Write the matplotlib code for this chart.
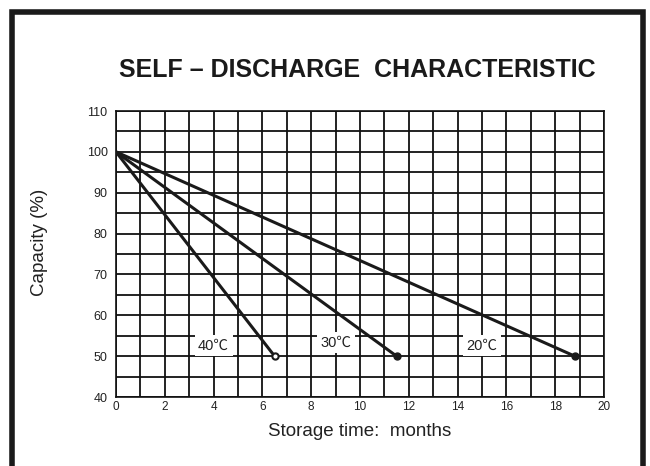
import matplotlib.pyplot as plt
from matplotlib.patches import Rectangle

# storage time (months) vs remaining capacity (%)
temps = ["40℃", "30℃", "20℃"]
end_months = [6.5, 11.5, 18.8]
start_cap = 100
end_cap = 50
label_x = [4.0, 9.0, 15.0]
label_y = [52.6, 53.3, 52.6]
x_ticks = list(range(0, 21, 2))
y_ticks = list(range(40, 111, 10))

fam = ['Liberation Sans', 'Noto Sans CJK SC', 'DejaVu Sans']
plt.rcParams['font.family'] = fam

fig = plt.figure(figsize=(6.5, 4.66), dpi=100)
ax = fig.add_axes([116/650, 1-397/466, 488/650, 286/466])

ax.set_xlim(0, 20)
ax.set_ylim(40, 110)
ax.set_xticks(x_ticks)
ax.set_yticks(y_ticks)
ax.set_xticks(range(0, 21), minor=True)
ax.set_yticks(range(40, 111, 5), minor=True)
ax.grid(True, which='both', color='#111111', linewidth=1.3)
ax.set_axisbelow(True)
ax.tick_params(which='both', length=0)
ax.tick_params(axis='x', labelsize=8.5, pad=3, colors='#222222')
ax.tick_params(axis='y', labelsize=9, pad=6, colors='#222222')
for s in ax.spines.values():
    s.set_color('#111111')
    s.set_linewidth(1.2)

for i, t in enumerate(temps):
    ax.plot([0, end_months[i]], [start_cap, end_cap], color='#1a1a1a', lw=2.2,
            zorder=3)
    if i == 0:
        ax.plot(end_months[i], end_cap, 'o', ms=4.5, mfc='white', mec='#1a1a1a',
                mew=1.5, zorder=4)
    else:
        ax.plot(end_months[i], end_cap, 'o', ms=5, color='#1a1a1a', zorder=4)
    ax.text(label_x[i], label_y[i], t, ha='center', va='center', fontsize=10.5,
            color='#222222', zorder=2,
            bbox=dict(facecolor='white', edgecolor='none', pad=2.5))

ax.set_xlabel("Storage time:  months", fontsize=13.5, color='#222222', labelpad=7)
ax.set_ylabel("Capacity (%)", fontsize=13.5, color='#222222')
ax.yaxis.set_label_coords(-0.14, 0.54)
fig.text(357/650, 1-70/466, "SELF – DISCHARGE  CHARACTERISTIC", ha='center',
         va='center', fontsize=18, fontweight='bold', color='#1a1a1a')

# outer frame
fig.patches.append(Rectangle((12/650, -0.1), 631/650, 1.1 - 12/466,
                             transform=fig.transFigure, fill=False,
                             edgecolor='#1a1a1a', linewidth=4))

fig.savefig("out.png", dpi=100)
